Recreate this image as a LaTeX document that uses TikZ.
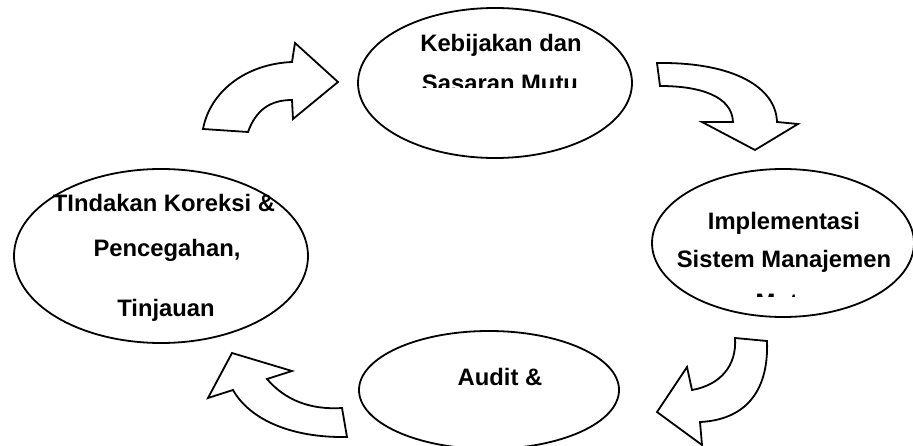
\documentclass[tikz,border=0pt]{standalone}
\usepackage{fontspec}
\setmainfont{Liberation Sans}
\usetikzlibrary{shapes.geometric}

\begin{document}
\begin{tikzpicture}[
		x = 1pt,
		y = -1pt,
		tahap/.style = {
			draw,
			ellipse,
			line width = 1.8pt,
			inner sep = 0
		},
		teks/.style = {
			anchor = base,
			inner sep = 0,
			font = \fontsize{23.8}{28}\selectfont\bfseries
		},
		panah/.style = {
			draw,
			line width = 1.8pt,
			line join = miter,
			fill = white
		}
	]
	\useasboundingbox (0, 0) rectangle (913, 446);

	% tahapan siklus
	\node [tahap, minimum width = 274pt, minimum height = 150pt] (kebijakan) at (495, 83) {};
	\node [tahap, minimum width = 262pt, minimum height = 148pt] (implementasi) at (783, 243) {};
	\node [tahap, minimum width = 260pt, minimum height = 118pt] (audit) at (489, 390) {};
	\node [tahap, minimum width = 294pt, minimum height = 174pt] (tindakan) at (161, 256) {};

	% teks tiap tahap
	\node [teks] (kebijakanA) at (501, 52) {Kebijakan dan};
	\begin{scope}
		\clip (360, 60) rectangle (640, 88);
		\node [teks] (kebijakanB) at (500, 92) {Sasaran Mutu};
	\end{scope}

	\node [teks] (implementasiA) at (784, 230) {Implementasi};
	\node [teks] (implementasiB) at (784, 268) {Sistem Manajemen};
	\begin{scope}
		\clip (660, 280) rectangle (910, 297);
		\node [teks] (implementasiC) at (784, 311) {Mutu};
	\end{scope}

	\node [teks] (auditA) at (500, 385) {Audit \&};

	\node [teks] (tindakanA) at (164, 212) {TIndakan Koreksi \&};
	\node [teks] (tindakanB) at (167, 257) {Pencegahan,};
	\node [teks] (tindakanC) at (166, 317) {Tinjauan};

	% panah lengkung
	\draw [panah] (203, 129) -- (248, 132)
		.. controls (256, 110) and (270, 100) .. (292, 100)
		-- (293, 119) -- (338, 82) -- (295, 43) -- (292, 62)
		.. controls (245, 64) and (210, 92) .. cycle;

	\draw [panah] (657, 63) .. controls (735, 62) and (776, 88) .. (777, 122)
		-- (798, 124) -- (755, 150) -- (702, 122) -- (733, 122)
		.. controls (732, 96) and (700, 86) .. (660, 86) -- cycle;

	\draw [panah] (735, 338) -- (767, 341)
		.. controls (769, 395) and (742, 420) .. (700, 422)
		-- (702, 445) -- (657, 412) -- (687, 367) -- (692, 390)
		.. controls (720, 385) and (737, 366) .. cycle;

	\draw [panah] (342, 408) -- (347, 437)
		.. controls (292, 438) and (250, 420) .. (233, 390)
		-- (208, 398) -- (232, 353) -- (292, 371) -- (267, 379)
		.. controls (285, 400) and (310, 410) .. cycle;
\end{tikzpicture}
\end{document}
